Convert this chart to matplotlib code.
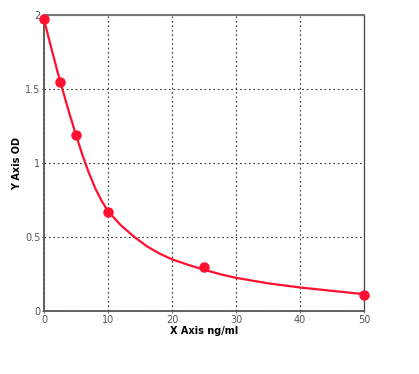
import matplotlib
matplotlib.use('Agg')
import matplotlib.pyplot as plt

# standard points (concentration ng/ml, OD)
conc = [0, 2.5, 5, 10, 25, 50]
od = [1.97, 1.55, 1.19, 0.667, 0.295, 0.106]

# fitted curve
curve_x = [0, 1, 2, 2.5, 3, 4, 5, 6, 7, 8, 9, 10, 12, 14, 16, 18, 20,
           22.5, 25, 27.5, 30, 35, 40, 45, 50]
curve_y = [1.97, 1.80, 1.635, 1.555, 1.48, 1.33, 1.19, 1.055, 0.935, 0.83, 0.745, 0.675,
           0.58, 0.505, 0.44, 0.39, 0.35, 0.313, 0.28, 0.25, 0.225, 0.188, 0.16, 0.137, 0.115]

xticks = [0, 10, 20, 30, 40, 50]
yticks = [0, 0.5, 1, 1.5, 2]
ytick_labels = ['0', '0.5', '1', '1.5', '2']

red = '#ff1030'

fig = plt.figure(figsize=(4.19, 3.74), dpi=100)
ax = fig.add_axes([0.105, 0.168, 0.764, 0.792])

ax.plot(curve_x, curve_y, color=red, linewidth=1.6, clip_on=False, zorder=3)
ax.plot(conc, od, 'o', color=red, markersize=6.5, clip_on=False, zorder=4)

ax.set_xlim(0, 50)
ax.set_ylim(0, 2)
ax.set_xticks(xticks)
ax.set_yticks(yticks)
ax.set_yticklabels(ytick_labels)

ax.grid(True, color='#333333', linestyle=(0, (1.5, 2.5)), linewidth=0.8)
ax.tick_params(labelsize=7, colors='#555555', length=1.5, width=0.6, pad=1)

ax.spines['left'].set_color('#555555')
ax.spines['bottom'].set_color('#555555')
ax.spines['left'].set_linewidth(1.3)
ax.spines['bottom'].set_linewidth(1.3)
ax.spines['top'].set_color('#777777')
ax.spines['top'].set_linewidth(1.5)
ax.spines['right'].set_color('#444444')
ax.spines['right'].set_linewidth(0.9)

ax.set_xlabel('X Axis ng/ml', fontsize=7, fontweight='bold', labelpad=1)
ax.set_ylabel('Y Axis OD', fontsize=7, fontweight='bold', labelpad=2)

fig.savefig('out.png', dpi=100)
